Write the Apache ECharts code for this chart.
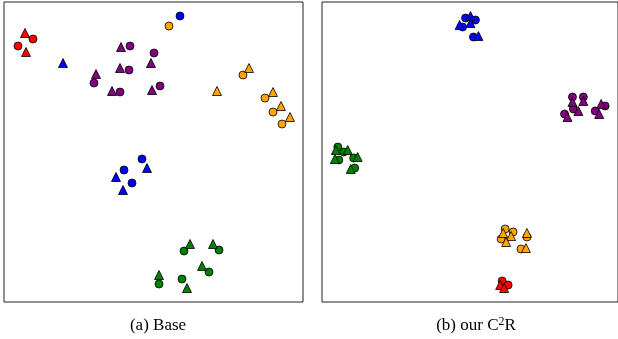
<!DOCTYPE html>
<html>
<head>
<meta charset="utf-8">
<title>Base vs C2R</title>
<script src="https://cdn.jsdelivr.net/npm/echarts@6/dist/echarts.min.js"></script>
<style>
  html, body { margin: 0; padding: 0; background: #fff; }
  #chart { width: 618px; height: 339px; }
</style>
</head>
<body>
<div id="chart"></div>
<script>
// class names and colours
var classes = ['red', 'blue', 'purple', 'orange', 'green'];
var colors = ['#ff0000', '#0000ff', '#800080', '#ffa500', '#008000'];

// (a) Base : [x, y] per class, circles and triangles
var baseCircles = [
  [[29, 263], [14, 256]],
  [[176, 286], [138, 143], [120, 132], [128, 119]],
  [[126, 256], [150, 249], [125, 232], [90, 219], [116, 210], [156, 216]],
  [[165, 276], [239, 227], [261, 204], [269, 190], [278, 178]],
  [[180, 51], [215, 52], [205, 30], [155, 18], [178, 23]]
];
var baseTriangles = [
  [[21, 269], [22, 250]],
  [[59, 239], [143, 134], [112, 125], [119, 112]],
  [[117, 255], [147, 239], [116, 234], [92, 228], [108, 211], [148, 212]],
  [[245, 234], [213, 211], [269, 210], [277, 196], [286, 185]],
  [[186, 58], [209, 58], [198, 36], [155, 27], [183, 14]]
];

// (b) our C2R
var oursCircles = [
  [[182, 21], [188, 17]],
  [[145, 284], [155, 282], [142, 275], [153, 265]],
  [[253, 205], [264, 205], [254, 193], [245, 188], [286, 196], [276, 191]],
  [[185, 73], [193, 70], [181, 63], [207, 65], [201, 53]],
  [[16, 155], [22, 150], [17, 142], [32, 144], [33, 134]]
];
var oursTriangles = [
  [[180, 17], [184, 14]],
  [[150, 286], [150, 279], [139, 277], [158, 266]],
  [[253, 200], [264, 201], [259, 191], [248, 185], [282, 198], [280, 188]],
  [[183, 69], [191, 66], [186, 60], [207, 69], [206, 54]],
  [[14, 152], [26, 152], [13, 143], [36, 145], [29, 133]]
];

var captions = ['(a) Base', '(b) our C{sup|2}R'];

var chart = echarts.init(document.getElementById('chart'));

function axis(idx, max) {
  return {
    type: 'value', gridIndex: idx, min: 0, max: max,
    axisLine: { show: false }, axisTick: { show: false },
    axisLabel: { show: false }, splitLine: { show: false }
  };
}

var series = [];
function addPanel(idx, circles, triangles) {
  classes.forEach(function (name, i) {
    [['circle', circles[i]], ['triangle', triangles[i]]].forEach(function (s) {
      series.push({
        type: 'scatter',
        name: name,
        xAxisIndex: idx, yAxisIndex: idx,
        symbol: s[0],
        symbolSize: s[0] === 'circle' ? 8 : 9,
        itemStyle: { color: colors[i], borderColor: '#000', borderWidth: 0.8, opacity: 1 },
        data: s[1],
        silent: true,
        animation: false
      });
    });
  });
}
addPanel(0, baseCircles, baseTriangles);
addPanel(1, oursCircles, oursTriangles);

var capStyle = {
  fontFamily: 'Liberation Serif', fontWeight: 'normal', fontSize: 17, color: '#000',
  lineHeight: 20,
  rich: {
    sup: { fontFamily: 'Liberation Serif', fontSize: 12, color: '#000', verticalAlign: 'top', lineHeight: 20 }
  }
};

var option = {
  backgroundColor: '#fff',
  title: [
    { text: captions[0], left: 153, top: 311, textAlign: 'center', textStyle: capStyle },
    { text: captions[1], left: 471, top: 311, textAlign: 'center', textStyle: capStyle }
  ],
  grid: [
    { left: 4, top: 2, width: 299, height: 300, show: true, borderColor: '#222', borderWidth: 1 },
    { left: 322, top: 2, width: 299, height: 300, show: true, borderColor: '#222', borderWidth: 1 }
  ],
  xAxis: [axis(0, 299), axis(1, 299)],
  yAxis: [axis(0, 300), axis(1, 300)],
  series: series
};

chart.setOption(option);
</script>
</body>
</html>
